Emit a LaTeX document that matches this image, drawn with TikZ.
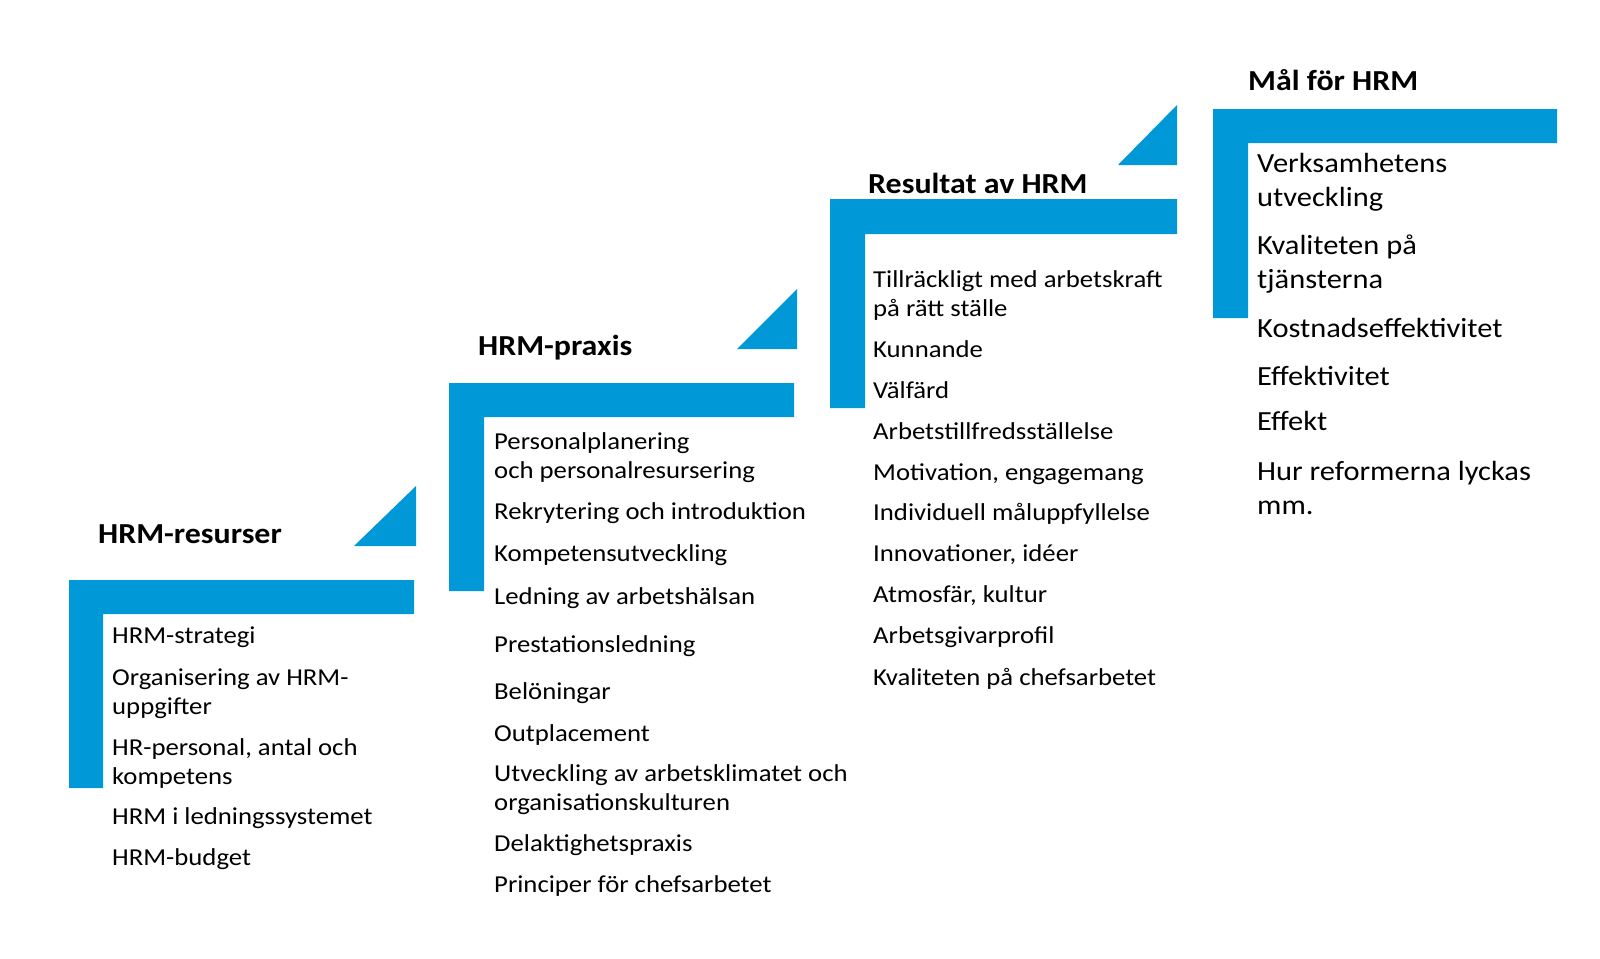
\documentclass[tikz,border=0pt]{standalone}
\usepackage{fontspec}
\setmainfont{Carlito}[FakeStretch=1.1]
\definecolor{stepblue}{RGB}{0,152,214}
\begin{document}
\begin{tikzpicture}[x=1pt,y=-1pt,
  bar/.style={fill=stepblue,draw=none},
  ttl/.style={anchor=base west,inner sep=0pt,font=\fontsize{29}{33}\selectfont\bfseries},
  item/.style={anchor=base west,inner sep=0pt,align=left,font=\fontsize{24.3}{29}\selectfont},
  bigitem/.style={anchor=base west,inner sep=0pt,align=left,font=\fontsize{27.7}{34}\selectfont}]
\useasboundingbox[fill=white] (0,0) rectangle (1600,958);

% step 1
\fill[bar] (69,580) -- (414,580) -- (414,614) -- (103,614) -- (103,788) -- (69,788) -- cycle;
\fill[bar] (354,546) -- (416,546) -- (416,486) -- cycle;
\node[ttl] (t1) at (98,543) {HRM-resurser};
\node[item] (a1) at (112,643) {HRM-strategi};
\node[item] (a2) at (112,714) {Organisering av HRM-\\uppgifter};
\node[item] (a3) at (112,784) {HR-personal, antal och\\kompetens};
\node[item] (a4) at (112,824) {HRM i ledningssystemet};
\node[item] (a5) at (112,865) {HRM-budget};

% step 2
\fill[bar] (449,383) -- (794,383) -- (794,417) -- (484,417) -- (484,591) -- (449,591) -- cycle;
\fill[bar] (737,349) -- (797,349) -- (797,289) -- cycle;
\node[ttl] (t2) at (478,355) {HRM-praxis};
\node[item] (b1) at (494,478) {Personalplanering\\och personalresursering};
\node[item] (b2) at (494,519) {Rekrytering och introduktion};
\node[item] (b3) at (494,561) {Kompetensutveckling};
\node[item] (b4) at (494,604) {Ledning av arbetshälsan};
\node[item] (b5) at (494,652) {Prestationsledning};
\node[item] (b6) at (494,699) {Belöningar};
\node[item] (b7) at (494,741) {Outplacement};
\node[item] (b8) at (494,810) {Utveckling av arbetsklimatet och\\organisationskulturen};
\node[item] (b9) at (494,851) {Delaktighetspraxis};
\node[item] (b10) at (494,892) {Principer för chefsarbetet};

% step 3
\fill[bar] (830,199) -- (1177,199) -- (1177,234) -- (865,234) -- (865,408) -- (830,408) -- cycle;
\fill[bar] (1118,165) -- (1177,165) -- (1177,105) -- cycle;
\node[ttl] (t3) at (868,193) {Resultat av HRM};
\node[item] (c1) at (873,316) {Tillräckligt med arbetskraft\\på rätt ställe};
\node[item] (c2) at (873,357) {Kunnande};
\node[item] (c3) at (873,398) {Välfärd};
\node[item] (c4) at (873,439) {Arbetstillfredsställelse};
\node[item] (c5) at (873,480) {Motivation, engagemang};
\node[item] (c6) at (873,520) {Individuell måluppfyllelse};
\node[item] (c7) at (873,561) {Innovationer, idéer};
\node[item] (c8) at (873,602) {Atmosfär, kultur};
\node[item] (c9) at (873,643) {Arbetsgivarprofil};
\node[item] (c10) at (873,685) {Kvaliteten på chefsarbetet};

% step 4
\fill[bar] (1213,109) -- (1557,109) -- (1557,143) -- (1248,143) -- (1248,318) -- (1213,318) -- cycle;
\node[ttl] (t4) at (1248,90) {Mål för HRM};
\node[bigitem] (d1) at (1257,206) {Verksamhetens\\utveckling};
\node[bigitem] (d2) at (1257,288) {Kvaliteten på\\tjänsterna};
\node[bigitem] (d3) at (1257,337) {Kostnadseffektivitet};
\node[bigitem] (d4) at (1257,385) {Effektivitet};
\node[bigitem] (d5) at (1257,430) {Effekt};
\node[bigitem] (d6) at (1257,514) {Hur reformerna lyckas\\mm.};
\end{tikzpicture}
\end{document}
